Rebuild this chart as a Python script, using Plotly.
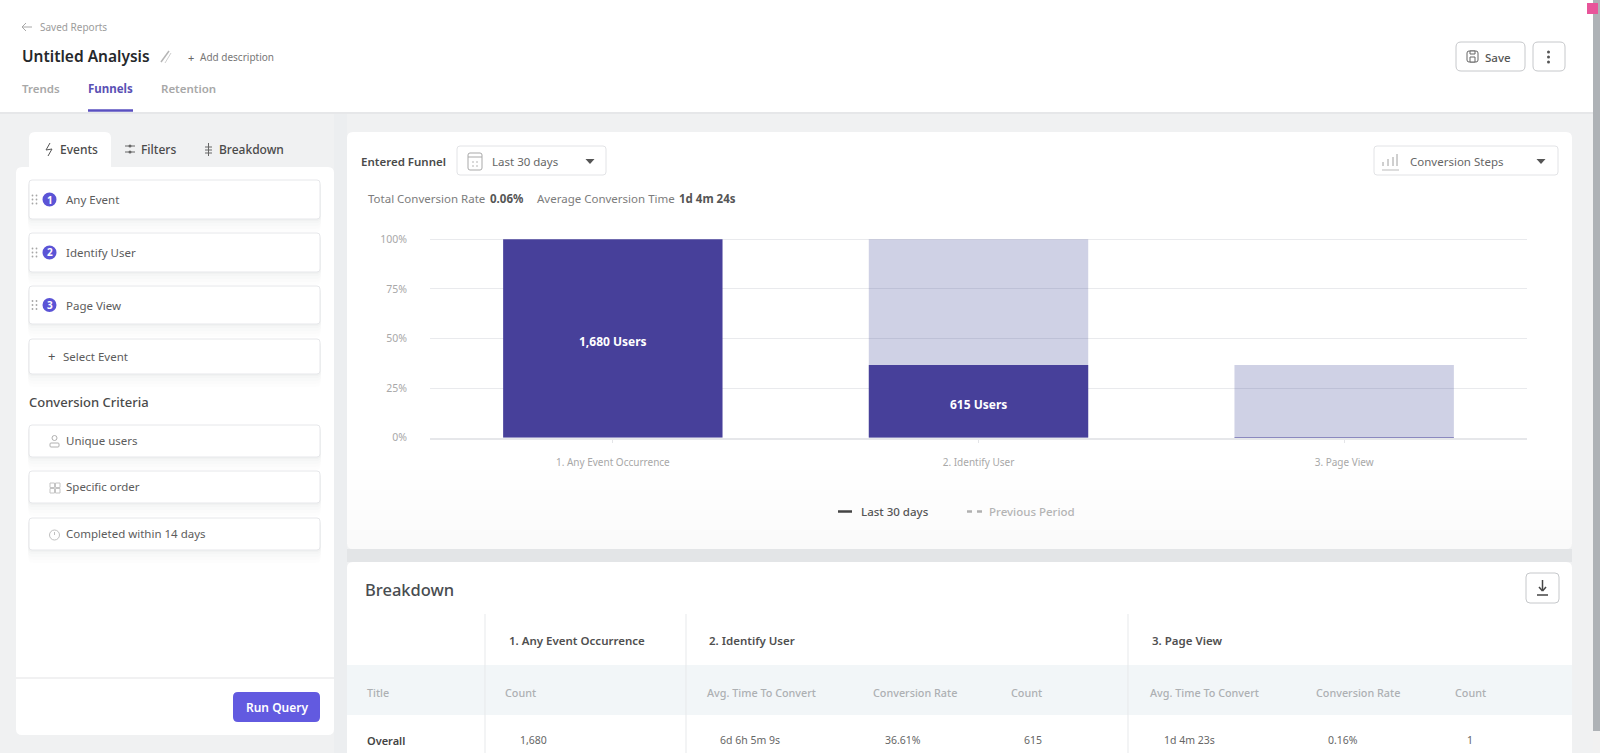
import plotly.graph_objects as go

W = 1600
H = 753
FONT = "Noto Sans"

# chart data
steps = ["1. Any Event Occurrence", "2. Identify User", "3. Page View"]
conversion_pct = [100, 36.61, 0.06]
previous_pct = [None, 100, 36.61]
bar_labels = ["1,680 Users", "615 Users", ""]
y_ticks = [0, 25, 50, 75, 100]
y_tick_labels = ["0%", "25%", "50%", "75%", "100%"]

# left panel
event_names = ["Any Event", "Identify User", "Page View"]
event_numbers = ["1", "2", "3"]
criteria_names = ["Unique users", "Specific order", "Completed within 14 days"]

# breakdown table
sub_headers = ["Title", "Count", "Avg. Time To Convert", "Conversion Rate", "Count",
               "Avg. Time To Convert", "Conversion Rate", "Count"]
row_values = ["Overall", "1,680", "6d 6h 5m 9s", "36.61%", "615", "1d 4m 23s", "0.16%", "1"]


def xp(x):
    return x / W


def yp(y):
    return 1 - y / H


shapes = []
notes = []


def box(x0, y0, x1, y1, fill="white", line=None, r=0, width=1, corners="tl tr br bl"):
    # rounded rectangle in page pixels
    rs = {c: (r if c in corners.split() else 0) for c in ["tl", "tr", "br", "bl"]}
    path = f"M {xp(x0 + rs['tl'])} {yp(y0)} L {xp(x1 - rs['tr'])} {yp(y0)} "
    path += f"Q {xp(x1)} {yp(y0)} {xp(x1)} {yp(y0 + rs['tr'])} L {xp(x1)} {yp(y1 - rs['br'])} "
    path += f"Q {xp(x1)} {yp(y1)} {xp(x1 - rs['br'])} {yp(y1)} L {xp(x0 + rs['bl'])} {yp(y1)} "
    path += f"Q {xp(x0)} {yp(y1)} {xp(x0)} {yp(y1 - rs['bl'])} L {xp(x0)} {yp(y0 + rs['tl'])} "
    path += f"Q {xp(x0)} {yp(y0)} {xp(x0 + rs['tl'])} {yp(y0)} Z"
    shapes.append(dict(type="path", path=path, xref="paper", yref="paper", fillcolor=fill,
                       line=dict(color=line if line else "rgba(0,0,0,0)", width=width if line else 0),
                       layer="below"))


def seg(x0, y0, x1, y1, color="#888888", width=1, dash="solid"):
    shapes.append(dict(type="line", xref="paper", yref="paper", x0=xp(x0), y0=yp(y0), x1=xp(x1), y1=yp(y1),
                       line=dict(color=color, width=width, dash=dash), layer="below"))


def dot(x, y, r, color):
    shapes.append(dict(type="circle", xref="paper", yref="paper", x0=xp(x - r), y0=yp(y + r),
                       x1=xp(x + r), y1=yp(y - r), fillcolor=color, line=dict(width=0), layer="below"))


def ring(x, y, r, color):
    shapes.append(dict(type="circle", xref="paper", yref="paper", x0=xp(x - r), y0=yp(y + r),
                       x1=xp(x + r), y1=yp(y - r), line=dict(width=1, color=color), layer="below"))


def label(x, y, text, size=12, color="#555555", anchor="left", weight=400):
    # left aligned text sits about a pixel too far right otherwise
    if anchor == "left":
        x = x - 1
    notes.append(dict(x=xp(x), y=yp(y), xref="paper", yref="paper", text=text, showarrow=False,
                      xanchor=anchor, yanchor="middle", borderpad=0,
                      font=dict(family=FONT, size=size, color=color, weight=weight)))


def card(x0, y0, x1, y1):
    # input box with a soft shadow under it
    for grow, alpha in [(13, 0.006), (10, 0.008), (7, 0.010), (4, 0.014), (2, 0.018)]:
        box(x0 - 1, y0 + 2, x1 + 1, y1 + grow, fill=f"rgba(40,45,60,{alpha})", r=5)
    box(x0, y0, x1, y1, fill="white", line="#e6e7ea", r=3)


def caret(x, y):
    shapes.append(dict(type="path", xref="paper", yref="paper", layer="below", fillcolor="#555555",
                       line=dict(width=0),
                       path=f"M {xp(x - 4.5)} {yp(y - 2)} L {xp(x + 4.5)} {yp(y - 2)} L {xp(x)} {yp(y + 3)} Z"))


# page background
box(0, 0, W, H, fill="#f0f1f2")
box(334, 112, 347, H, fill="#eceef0")

# header
box(0, 0, 1593, 112, fill="white")
seg(0, 113, 1593, 113, color="#e6e7e9", width=2)
label(40, 27, "Saved Reports", size=10, color="#9c9c9c")
seg(22, 27, 32, 27, color="#a8a8a8")
seg(22, 27, 26, 23, color="#a8a8a8")
seg(22, 27, 26, 31, color="#a8a8a8")
label(22, 56, "Untitled Analysis", size=15.5, color="#26282b", weight=600)
seg(161, 62, 169, 51, color="#b5b5b5", width=1.5)
seg(165, 63, 171, 53, color="#cfcfcf", width=1)
label(188, 57, "+", size=11, color="#666666")
label(200, 57, "Add description", size=10, color="#777777")
label(22, 88.5, "Trends", size=11.5, color="#a8a8a8", weight=600)
label(88, 88.5, "Funnels", size=11.5, color="#5a50b4", weight=700)
label(161, 88.5, "Retention", size=11.5, color="#a8a8a8", weight=600)
seg(88, 110.5, 133, 110.5, color="#5a50c0", width=2.5)

# save buttons
box(1456, 42, 1525, 71, fill="white", line="#c6c8cb", r=5)
box(1533, 42, 1565, 71, fill="white", line="#c6c8cb", r=5)
box(1467, 51, 1478, 62, fill="white", line="#666666", r=2)
box(1470, 51, 1475, 54, fill="white", line="#666666")
box(1470, 57, 1475, 62, fill="white", line="#666666")
label(1485, 57, "Save", size=11.5, color="#555555", weight=500)
for dy in [52, 57, 62]:
    dot(1548.5, dy, 1.5, "#555555")

# scrollbar and corner mark
box(1593, 0, W, 731, fill="#aeb2b6")
box(1593, 731, W, H, fill="#f1f1f1")
box(1587, 3, 1598, 14, fill="#e8559a")

# left panel
box(29, 132, 111, 168, fill="white", r=6, corners="tl tr")
box(16, 167, 334, 735, fill="white", r=6)
label(60, 149, "Events", size=12, color="#4a4a4a", weight=500)
label(141, 149, "Filters", size=12, color="#4a4a4a", weight=500)
label(219, 149, "Breakdown", size=12, color="#4a4a4a", weight=500)
seg(50, 143, 46, 150, color="#555555")
seg(46, 150, 52, 149, color="#555555")
seg(52, 149, 48, 156, color="#555555")
for dy in [146, 152]:
    seg(125, dy, 135, dy, color="#666666")
    dot(130, dy, 1.5, "#666666")
seg(208.5, 143, 208.5, 156, color="#666666")
for dy in [147, 150, 153]:
    seg(205, dy, 212, dy, color="#666666")

event_rows = [(180, 219), (233, 272), (286, 324)]
for (top, bottom), name, num in zip(event_rows, event_names, event_numbers):
    card(29, top, 320, bottom)
    mid = (top + bottom) / 2
    for dx in [32.5, 36.5]:
        for dy in [-4, 0, 4]:
            dot(dx, mid + dy, 0.9, "#a6a6a6")
    dot(49.5, mid, 7, "#5b54d6")
    label(49.5, mid, num, size=10, color="white", anchor="center", weight=700)
    label(66, mid, name, size=11.5, color="#5c5c5c")

card(29, 339, 320, 374)
label(48, 356, "+", size=13, color="#555555")
label(63, 356, "Select Event", size=11.5, color="#5c5c5c")

label(29, 402, "Conversion Criteria", size=13, color="#4a4a4a", weight=500)
criteria_rows = [(425, 457), (471, 503), (518, 550)]
for (top, bottom), name in zip(criteria_rows, criteria_names):
    card(29, top, 320, bottom)
    label(66, (top + bottom) / 2 - 0.5, name, size=11.5, color="#5c5c5c")
ring(54.5, 438, 2.5, "#b0b0b0")
box(50, 443, 59, 447, fill="white", line="#b0b0b0", r=1)
for dx in [50, 55.5]:
    for dy in [483, 488.5]:
        box(dx, dy, dx + 4.5, dy + 4.5, fill="white", line="#c4c4c4")
ring(54.5, 535, 5, "#c0c0c0")
seg(54.5, 535, 54.5, 532, color="#c0c0c0")

seg(16, 678, 334, 678, color="#ececee", width=1.5)
box(233, 692, 320, 722, fill="#625ae0", r=5)
label(276.5, 707, "Run Query", size=12, color="white", anchor="center", weight=600)

# chart card
box(347, 132, 1572, 549, fill="white", r=6)
for top, alpha in [(470, 0.06), (490, 0.07), (510, 0.08), (530, 0.10)]:
    box(347, top, 1572, 549, fill=f"rgba(236,238,240,{alpha})", r=6, corners="br bl")
label(361, 161, "Entered Funnel", size=11.5, color="#4a4a4a", weight=600)
box(457, 146, 606, 175, fill="white", line="#e2e3e6", r=3)
box(468, 153, 482, 170, fill="white", line="#a9a9a9", r=2)
seg(468, 157, 482, 157, color="#a9a9a9")
for dx in [473, 477]:
    for dy in [162, 166]:
        dot(dx, dy, 0.8, "#a9a9a9")
label(492, 161, "Last 30 days", size=11.5, color="#666666")
caret(590, 161)

label(368, 198, "Total Conversion Rate", size=11.5, color="#7c7c7c")
label(490, 198, "0.06%", size=11.5, color="#555555", weight=700)
label(537, 198, "Average Conversion Time", size=11.5, color="#7c7c7c")
label(679, 198, "1d 4m 24s", size=11.5, color="#555555", weight=700)

box(1374, 146, 1558, 175, fill="white", line="#e2e3e6", r=3)
for dx, y0 in zip([1383, 1388, 1393, 1397], [162, 159, 157, 154]):
    seg(dx, 166, dx, y0, color="#a0a0a0")
seg(1382, 170, 1399, 170, color="#bbbbbb")
label(1410, 161, "Conversion Steps", size=11.5, color="#666666")
caret(1541, 161)

# chart legend
seg(838, 511.5, 852, 511.5, color="#444444", width=2.5)
label(861, 512, "Last 30 days", size=11.5, color="#555555", weight=500)
seg(967, 511.5, 972, 511.5, color="#b0b0b0", width=2.5)
seg(977, 511.5, 982, 511.5, color="#b0b0b0", width=2.5)
label(989, 512, "Previous Period", size=11.5, color="#b4b4b4", weight=500)

# breakdown card
box(347, 549, 1572, 562, fill="#e3e5e7")
box(347, 562, 1572, H, fill="white", r=6, corners="tl tr")
label(365, 589, "Breakdown", size=16.5, color="#484c50", weight=500)
box(1526, 573, 1559, 603, fill="white", line="#c6c8cb", r=4)
seg(1542.5, 580, 1542.5, 590, color="#444444", width=1.5)
seg(1539, 587, 1542.5, 591, color="#444444", width=1.5)
seg(1546, 587, 1542.5, 591, color="#444444", width=1.5)
seg(1537, 595, 1548, 595, color="#444444", width=1.5)

box(347, 665, 1572, 715, fill="#f2f6f8")
for vx in [485, 686, 1128]:
    seg(vx, 614, vx, H, color="#e7e9eb")

head_x = [509, 709, 1152]
for hx, name in zip(head_x, steps):
    label(hx, 640, name, size=11.5, color="#4f4f4f", weight=600)

sub_x = [367, 505, 761, 915, 1026, 1204, 1358, 1470]
for i, (sx, name) in enumerate(zip(sub_x, sub_headers)):
    label(sx, 692, name, size=10.8, color="#adb0b3", anchor="left" if i < 2 else "center", weight=500)

row_x = [367, 533, 750, 903, 1033, 1189, 1343, 1470]
for i, (rx, val) in enumerate(zip(row_x, row_values)):
    if i == 0:
        label(rx, 740, val, size=11, color="#444444", weight=600)
    else:
        label(rx, 740, val, size=10.5, color="#666666", anchor="center")

# bar labels go through the data axes, nudged a little below the bar centre
for step, pct, text in zip(steps, conversion_pct, bar_labels):
    if text:
        notes.append(dict(x=step, y=pct / 2, xref="x", yref="y", text=text, showarrow=False, yshift=-3,
                          font=dict(family=FONT, size=12, color="white", weight=700)))

fig = go.Figure()
fig.add_trace(go.Bar(x=steps, y=previous_pct, marker=dict(color="rgba(65,70,150,0.25)", line=dict(width=0)),
                     hoverinfo="skip", showlegend=False))
fig.add_trace(go.Bar(x=steps, y=conversion_pct, marker=dict(color="#47409a", line=dict(width=0)),
                     hoverinfo="skip", showlegend=False))

fig.update_layout(
    width=W, height=H, margin=dict(l=0, r=0, t=0, b=0, autoexpand=False), barmode="overlay", bargap=0.4,
    paper_bgcolor="white", plot_bgcolor="rgba(0,0,0,0)", shapes=shapes, annotations=notes,
    font=dict(family=FONT),
    xaxis=dict(domain=[xp(430), xp(1527)], tickfont=dict(size=10, color="#a8a8a8"), ticks="outside", ticklen=3,
               tickcolor="#e4e5e8", showline=True, linecolor="#e6e7ea", linewidth=2, showgrid=False,
               ticklabelstandoff=11, fixedrange=True, automargin=False),
    yaxis=dict(domain=[yp(437.7), yp(237.3)], range=[0, 101], tickvals=y_ticks, ticktext=y_tick_labels,
               tickfont=dict(size=10.5, color="#a8a8a8"), gridcolor="#e9eaed", gridwidth=1, zeroline=False,
               ticks="", ticklabelstandoff=22, fixedrange=True, automargin=False),
)

fig.write_html("out.html", config=dict(displayModeBar=False),
               post_script="document.body.style.margin='0';document.body.style.overflow='hidden';")
